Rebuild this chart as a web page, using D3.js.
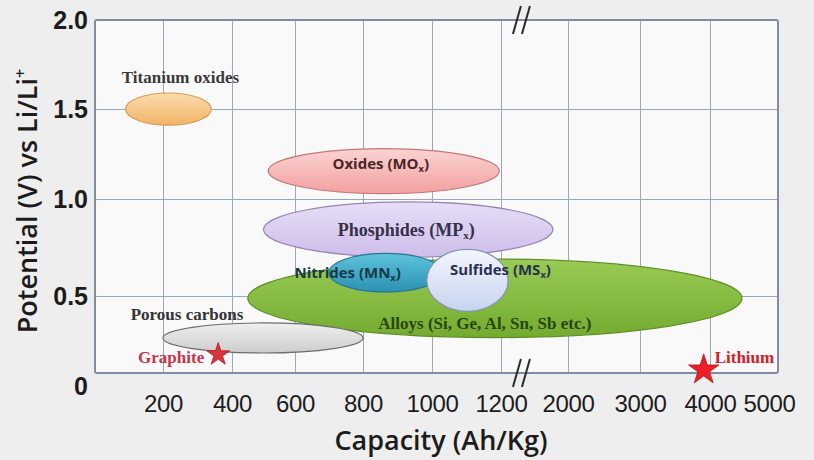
<!DOCTYPE html>
<html>
<head>
<meta charset="utf-8">
<script src="https://cdn.jsdelivr.net/npm/d3@7"></script>
<style>
  html, body { margin: 0; padding: 0; background: #eeeeee; }
  svg { display: block; font-family: "Open Sans", sans-serif; }
  .grid line { stroke: #9ba6b8; stroke-width: 1; }
  .grid path, .axis path { display: none; }
  .axis-x text { font-size: 24px; fill: #1c1c1c; letter-spacing: -0.3px; }
  .axis-y text { font-size: 25px; font-weight: 700; fill: #1c1c1c; }
  .axis-title { font-weight: 600; fill: #1c1c1c; }
  .serif { font-family: "Liberation Serif", "Times New Roman", serif; font-weight: 700; }
  .sans { font-family: "Open Sans", sans-serif; font-weight: 700; }
</style>
</head>
<body>
<div id="chart"></div>
<script>
// Anode material families: capacity range (Ah/kg) and potential range (V vs Li/Li+)
const materials = [
  "Titanium oxides",
  "Oxides (MO_x)",
  "Phosphides (MP_x)",
  "Alloys (Si, Ge, Al, Sn, Sb etc.)",
  "Nitrides (MN_x)",
  "Sulfides (MS_x)",
  "Porous carbons"
];
const capacityMin = [90, 515, 500, 450, 700, 985, 200];
const capacityMax = [340, 1195, 1820, 4470, 1030, 1285, 800];
const potentialMin = [1.41, 1.03, 0.70, 0.23, 0.52, 0.40, 0.13];
const potentialMax = [1.59, 1.28, 0.985, 0.69, 0.72, 0.74, 0.325];

// Reference electrodes drawn as stars
const references = ["Graphite", "Lithium"];
const refCapacity = [360, 3910];
const refPotential = [0.12, 0.02];

// Broken capacity axis: linear up to 1200, then 1000 per step
const capacityTicks = [0, 200, 400, 600, 800, 1000, 1200, 2000, 3000, 4000, 5000];
const potentialTicks = [0, 0.5, 1.0, 1.5, 2.0];
const potentialTickLabels = ["0", "0.5", "1.0", "1.5", "2.0"];
const axisBreak = 1450;

// Look of each material ellipse and its label
const looks = {
  "Titanium oxides": { top: "#fcdcae", bottom: "#f1b466", stroke: "#d99a52", font: "serif", size: 17, color: "#3a3a3a", dx: 12, dy: -32 },
  "Oxides (MO_x)": { top: "#fbd3d3", bottom: "#f2a0a0", stroke: "#c47777", font: "sans", size: 15, color: "#4a2626", dx: -3, dy: -7 },
  "Phosphides (MP_x)": { top: "#e8def6", bottom: "#cdbde9", stroke: "#9585b6", font: "serif", size: 18, color: "#36304a", dx: -2, dy: 0 },
  "Alloys (Si, Ge, Al, Sn, Sb etc.)": { top: "#9acb55", bottom: "#74ab2f", stroke: "#5e8e26", font: "serif", size: 17, color: "#2a4510", dx: -10, dy: 25 },
  "Nitrides (MN_x)": { top: "#5ec3da", bottom: "#2c91b3", stroke: "#2a7796", font: "sans", size: 15, color: "#163a46", dx: -38, dy: 0 },
  "Sulfides (MS_x)": { top: "#f3f6fd", bottom: "#c6d4ee", stroke: "#8494b4", font: "sans", size: 15, color: "#2a3050", dx: 33, dy: -11 },
  "Porous carbons": { top: "#efefef", bottom: "#cdcdcd", stroke: "#6c6c6c", font: "serif", size: 17, color: "#333333", dx: -76, dy: -24 }
};

const width = 814;
const height = 460;

const svg = d3.select("#chart").append("svg")
  .attr("width", width)
  .attr("height", height);

// Piecewise scales calibrated to the original grid
const x = d3.scaleLinear()
  .domain(capacityTicks)
  .range([95, 163, 232, 295, 363, 432, 501, 568, 640, 710, 778]);
const y = d3.scaleLinear()
  .domain(potentialTicks)
  .range([373, 296, 199, 109, 20]);

const plotLeft = x(0), plotRight = x(5000), plotTop = y(2.0), plotBottom = y(0);

// Plot background
svg.append("rect")
  .attr("x", plotLeft).attr("y", plotTop)
  .attr("width", plotRight - plotLeft).attr("height", plotBottom - plotTop)
  .attr("fill", "#f9f9f9");

// Grid
svg.append("g")
  .attr("class", "grid")
  .attr("transform", `translate(0, ${plotBottom})`)
  .call(d3.axisBottom(x).tickValues(capacityTicks.slice(1, -1)).tickSize(-(plotBottom - plotTop)).tickFormat(""));
svg.append("g")
  .attr("class", "grid")
  .attr("transform", `translate(${plotLeft}, 0)`)
  .call(d3.axisLeft(y).tickValues(potentialTicks.slice(1, -1)).tickSize(-(plotRight - plotLeft)).tickFormat(""));

// Frame
svg.append("rect")
  .attr("x", plotLeft).attr("y", plotTop)
  .attr("width", plotRight - plotLeft).attr("height", plotBottom - plotTop)
  .attr("rx", 2)
  .attr("fill", "none")
  .attr("stroke", "#7e8da4")
  .attr("stroke-width", 2);

// Gradients for ellipses
const defs = svg.append("defs");
materials.forEach((name, i) => {
  const look = looks[name];
  const grad = defs.append("linearGradient")
    .attr("id", `fill-${i}`)
    .attr("x1", 0).attr("y1", 0).attr("x2", 0).attr("y2", 1);
  grad.append("stop").attr("offset", "0%").attr("stop-color", look.top);
  grad.append("stop").attr("offset", "100%").attr("stop-color", look.bottom);
});

const rows = materials.map((name, i) => ({
  name,
  i,
  cMin: capacityMin[i],
  cMax: capacityMax[i],
  vMin: potentialMin[i],
  vMax: potentialMax[i]
}));

const ellipseLayer = svg.append("g");
ellipseLayer.selectAll("ellipse")
  .data(rows)
  .join("ellipse")
  .attr("cx", (d) => (x(d.cMin) + x(d.cMax)) / 2)
  .attr("cy", (d) => (y(d.vMin) + y(d.vMax)) / 2)
  .attr("rx", (d) => (x(d.cMax) - x(d.cMin)) / 2)
  .attr("ry", (d) => (y(d.vMin) - y(d.vMax)) / 2)
  .attr("fill", (d) => `url(#fill-${d.i})`)
  .attr("stroke", (d) => looks[d.name].stroke)
  .attr("stroke-width", 1.2);

// Labels, "_x" marks a subscript x
const labelLayer = svg.append("g");
rows.forEach((d) => {
  const look = looks[d.name];
  const cx = (x(d.cMin) + x(d.cMax)) / 2;
  const cy = (y(d.vMin) + y(d.vMax)) / 2;
  const text = labelLayer.append("text")
    .attr("class", look.font)
    .attr("x", cx + look.dx)
    .attr("y", cy + look.dy)
    .attr("dy", "0.35em")
    .attr("text-anchor", "middle")
    .attr("font-size", look.size)
    .attr("fill", look.color);
  const parts = d.name.split("_x");
  text.append("tspan").text(parts[0]);
  if (parts.length > 1) {
    text.append("tspan").attr("dy", 3).attr("font-size", "0.62em").text("x");
    text.append("tspan").attr("dy", -3).text(parts[1]);
  }
});

// Reference stars
const starSize = { Graphite: 12, Lithium: 16 };
references.forEach((name, i) => {
  const px = x(refCapacity[i]);
  const py = y(refPotential[i]);
  const r = starSize[name];
  svg.append("path")
    .attr("transform", `translate(${px}, ${py})`)
    .attr("d", d3.symbol(d3.symbolStar, (r * r) / 0.8908130915292852)())
    .attr("fill", name === "Lithium" ? "#ec1f26" : "#d9343f")
    .attr("stroke", "#b21822")
    .attr("stroke-width", 0.8);
  svg.append("text")
    .attr("class", "serif")
    .attr("x", name === "Lithium" ? px + 11 : px - 14)
    .attr("y", name === "Lithium" ? py - 13 : py + 3)
    .attr("dy", "0.35em")
    .attr("text-anchor", name === "Lithium" ? "start" : "end")
    .attr("font-size", 17)
    .attr("fill", name === "Lithium" ? "#d0202c" : "#c8344a")
    .text(name);
});

// Axis break marks
[plotTop, plotBottom].forEach((by) => {
  const bx = x(axisBreak);
  [-4, 5].forEach((off) => {
    svg.append("line")
      .attr("x1", bx + off - 5).attr("y1", by + 14)
      .attr("x2", bx + off + 3).attr("y2", by - 14)
      .attr("stroke", "#2a2a2a")
      .attr("stroke-width", 2);
  });
});

// X axis labels
const xAxisG = svg.append("g")
  .attr("class", "axis axis-x")
  .attr("transform", `translate(0, ${plotBottom})`)
  .call(d3.axisBottom(x).tickValues(capacityTicks.slice(1)).tickSize(0).tickPadding(22).tickFormat(d3.format("d")));
xAxisG.selectAll(".tick text")
  .attr("dx", (d) => (d === 5000 ? -9 : 0));

// Y axis labels
const yAxisG = svg.append("g")
  .attr("class", "axis axis-y")
  .attr("transform", `translate(${plotLeft}, 0)`)
  .call(d3.axisLeft(y).tickValues(potentialTicks).tickSize(0).tickPadding(7)
    .tickFormat((d, i) => potentialTickLabels[i]));
yAxisG.selectAll(".tick text")
  .attr("dy", (d) => (d === 0 ? "0.85em" : "0.32em"));

// Axis titles
svg.append("text")
  .attr("class", "axis-title")
  .attr("x", 441)
  .attr("y", 450)
  .attr("text-anchor", "middle")
  .attr("font-size", 27)
  .text("Capacity (Ah/Kg)");

const yTitle = svg.append("text")
  .attr("class", "axis-title")
  .attr("transform", "translate(37, 201) rotate(-90)")
  .attr("text-anchor", "middle")
  .attr("font-size", 27);
yTitle.append("tspan").text("Potential (V) vs Li/Li");
yTitle.append("tspan").attr("baseline-shift", "super").attr("font-size", "0.6em").text("+");
</script>
</body>
</html>
